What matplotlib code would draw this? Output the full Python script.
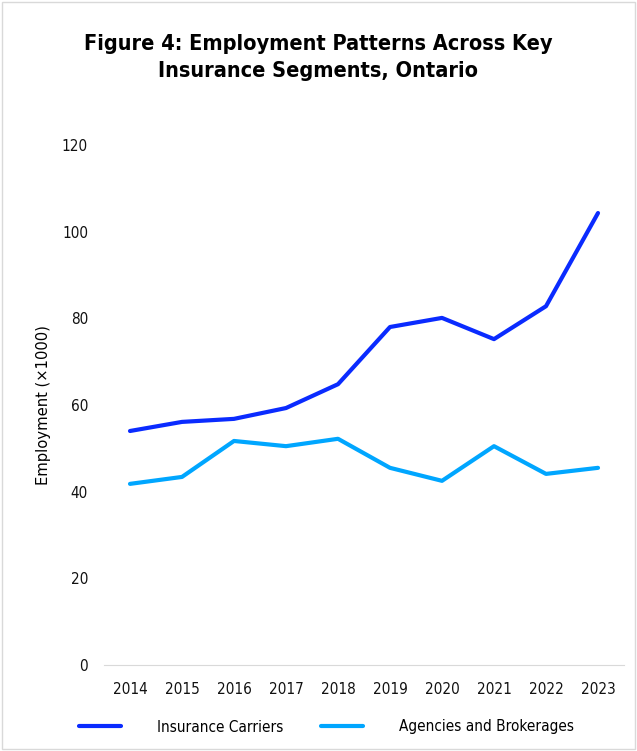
import matplotlib.pyplot as plt
from matplotlib.patches import Rectangle

years = ["2014", "2015", "2016", "2017", "2018", "2019", "2020", "2021", "2022", "2023"]
carriers = [54.0, 56.1, 56.8, 59.3, 64.8, 78.0, 80.1, 75.2, 82.8, 104.3]
agencies = [41.8, 43.4, 51.7, 50.5, 52.2, 45.5, 42.5, 50.5, 44.1, 45.5]

plt.rcParams['font.family'] = ['DejaVu Sans']
plt.rcParams['font.stretch'] = 'condensed'

fig = plt.figure(figsize=(6.37, 7.51), dpi=100)
ax = fig.add_axes([104/637, 1-665/751, 520/637, 520/751])

x = range(len(years))
ax.plot(x, carriers, color="#0A2BFF", lw=3.0, solid_capstyle="round", label="Insurance Carriers")
ax.plot(x, agencies, color="#00A6FF", lw=3.0, solid_capstyle="round", label="Agencies and Brokerages")

ax.set_xlim(-0.5, 9.5)
ax.set_ylim(0, 120)
ax.set_yticks(range(0, 121, 20))
ax.set_xticks(list(x))
ax.set_xticklabels(years)
ax.tick_params(length=0, labelsize=11, colors="#111111")
ax.tick_params(axis="y", pad=11.5)
ax.tick_params(axis="x", pad=12)
for s in ["top", "right", "left"]:
    ax.spines[s].set_visible(False)
ax.spines["bottom"].set_color("#d9d9d9")
ax.set_ylabel("Employment (×1000)", fontsize=11.8, labelpad=8)

fig.suptitle("Figure 4: Employment Patterns Across Key\nInsurance Segments, Ontario",
             fontsize=15.6, fontweight="bold", y=0.955, va="top", linespacing=1.45)

fig.legend(loc="center", bbox_to_anchor=(0.5 + 8/637, 1-727/751), ncol=2, frameon=False,
           fontsize=11, handlelength=2.75, handletextpad=2.35, columnspacing=2.45)

fig.patches.append(Rectangle((0.003, 0.003), 0.994, 0.994, transform=fig.transFigure,
                             fill=False, edgecolor="#d9d9d9", lw=1))

fig.savefig("out.png", dpi=100)
